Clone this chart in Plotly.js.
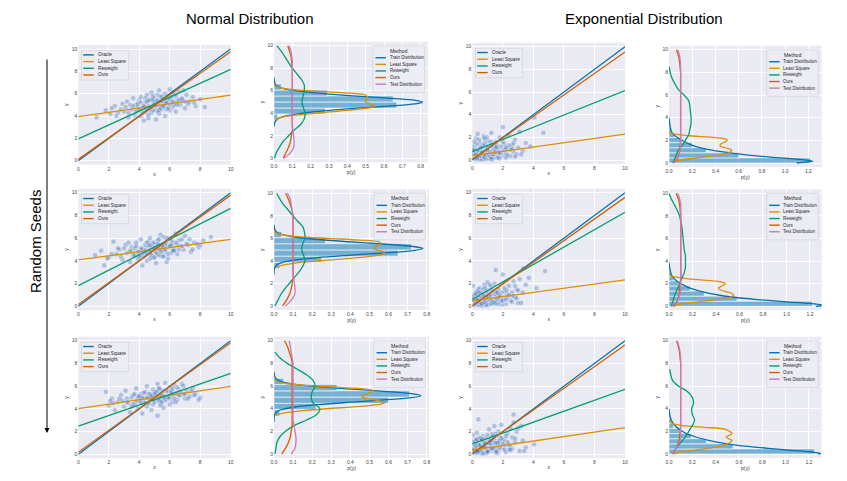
<!DOCTYPE html>
<html><head><meta charset="utf-8">
<script src="https://cdn.plot.ly/plotly-3.0.1.min.js"></script>
<style>html,body{margin:0;padding:0;background:#fff}#chart{width:847px;height:481px}</style>
</head><body><div id="chart"></div>
<script>
// ---------------- DATA ----------------
const LINE_X=[0,10];
const YG=[0,0.5,1,1.5,2,2.5,3,3.5,4,4.5,5,5.5,6,6.5,7,7.5,8,8.5,9,9.5,10];
const SC_TICKS=[0,2,4,6,8,10];
const NORM_PTICKS=[0,0.1,0.2,0.3,0.4,0.5,0.6,0.7,0.8];
const EXP_PTICKS=[0,0.2,0.4,0.6,0.8,1.0,1.2];
const SC_LEGEND=['Oracle','Least Square','Reweight','Ours'];
const DE_LEGEND=['Train Distribution','Least Square','Reweight','Ours','Test Distribution'];
const COL_TITLES=['Normal Distribution','Exponential Distribution'];
const ROW_LABEL='Random Seeds';

// Normal, seed 1 scatter
const N1x=[1.2,1.8,2.1,2.4,2.6,2.9,3.0,3.2,3.3,3.5,3.6,3.7,3.8,3.9,4.0,4.1,4.1,4.2,4.3,4.4,4.4,4.5,4.6,4.6,4.7,4.8,4.8,4.9,5.0,5.0,5.1,5.1,5.2,5.3,5.3,5.4,5.5,5.5,5.6,5.7,5.7,5.8,5.9,6.0,6.0,6.1,6.2,6.3,6.4,6.5,6.6,6.7,6.8,7.0,7.1,7.3,7.5,7.7,8.0,8.3,3.4,4.5,5.2,5.8,6.4,3.9,4.9,5.6,6.9,2.8];
const N1y=[3.9,4.5,4.2,4.9,4.3,5.1,4.4,5.3,3.9,4.6,5.6,4.1,5.0,4.5,5.4,4.0,5.7,4.7,3.6,5.2,4.4,5.9,4.9,3.8,5.5,4.3,6.1,5.0,4.6,5.6,3.7,5.3,4.8,6.3,4.2,5.1,4.6,5.8,5.3,4.0,6.0,5.0,5.6,4.5,6.4,5.2,4.8,5.8,4.4,5.5,6.2,5.0,5.6,4.7,5.9,5.3,5.7,4.9,5.5,4.8,5.0,4.6,5.9,4.6,5.9,4.8,4.5,5.5,6.3,4.6];
const N1x_b=[3.6,3.9,4.2,4.4,4.6,4.8,5.0,5.2,5.4,5.6,5.8,6.0,6.2,6.4,3.8,4.1,4.3,4.7,4.9,5.1,5.3,5.5,5.7,5.9,6.1,6.3,6.6,7.2,2.5,3.1,4.0,4.5,5.0,5.5,6.0,6.5,7.0,3.3,4.8,5.2,5.8,4.3,4.6,5.4,6.8,2.2,7.6,4.9,5.6,6.2];
const N1y_b=[4.9,5.1,4.3,5.6,4.1,5.4,4.9,4.4,5.7,4.8,5.3,5.0,6.1,5.2,4.4,5.2,4.8,4.6,5.5,5.0,4.5,5.3,5.1,4.7,5.7,5.0,5.4,5.1,4.0,4.8,4.6,5.3,5.2,4.9,5.5,5.0,5.3,4.3,4.8,5.4,5.2,4.9,5.4,4.7,5.5,4.7,5.2,5.8,4.9,5.3];
// Normal, seed 2 scatter
const N2x=[1.1,1.5,1.7,2.0,2.3,2.5,2.7,2.9,3.1,3.2,3.4,3.5,3.6,3.8,3.9,4.0,4.1,4.2,4.3,4.3,4.4,4.5,4.6,4.7,4.7,4.8,4.9,5.0,5.0,5.1,5.2,5.2,5.3,5.4,5.5,5.5,5.6,5.7,5.8,5.8,5.9,6.0,6.1,6.2,6.3,6.4,6.5,6.6,6.7,6.9,7.0,7.2,7.4,7.6,7.9,8.2,8.7,3.3,4.1,4.8,5.6,6.3,3.7,4.6,5.3,6.0,6.8,2.6,7.3,5.9];
const N2y=[4.5,4.9,3.6,4.3,5.7,4.6,5.0,4.1,5.4,4.7,3.9,5.2,4.5,5.6,4.2,4.8,5.9,3.6,5.1,4.4,5.4,4.0,5.7,4.7,6.0,5.2,4.3,5.5,4.9,3.8,5.8,4.6,5.3,6.3,4.4,5.0,6.1,4.8,5.5,3.9,5.2,6.0,4.7,5.6,5.1,6.4,4.6,5.8,5.3,5.0,6.2,5.4,4.8,5.6,5.2,5.8,6.1,5.6,4.5,5.0,5.4,4.9,5.1,4.9,4.5,5.3,5.9,5.1,5.9,4.2];
const N2x_b=[3.5,3.8,4.0,4.2,4.5,4.7,4.9,5.1,5.3,5.5,5.7,5.9,6.1,6.3,6.5,3.7,4.1,4.4,4.6,4.8,5.0,5.2,5.4,5.6,5.8,6.0,6.2,6.6,7.1,2.2,2.8,3.0,4.3,5.0,5.5,6.4,7.5,8.0,3.4,4.9,5.7,6.8,4.5,5.3,6.1,3.9,4.7,5.6,1.9,7.8];
const N2y_b=[4.8,5.3,4.4,5.0,5.6,4.2,5.2,4.7,5.9,4.9,5.4,4.6,5.8,4.9,5.4,4.5,5.1,4.9,5.3,4.5,5.1,5.5,4.8,5.2,6.0,5.3,4.9,5.0,5.5,4.6,4.4,5.1,4.7,4.3,5.3,5.6,5.0,5.4,4.9,5.6,5.0,5.3,4.6,5.0,5.4,4.8,5.4,4.4,4.2,5.5];
// Normal, seed 3 scatter
const N3x=[1.8,2.0,2.2,2.4,2.6,2.8,3.0,3.1,3.3,3.4,3.5,3.7,3.8,3.9,4.0,4.1,4.2,4.3,4.4,4.5,4.5,4.6,4.7,4.8,4.9,4.9,5.0,5.1,5.2,5.2,5.3,5.4,5.5,5.6,5.6,5.7,5.8,5.9,6.0,6.0,6.1,6.2,6.3,6.4,6.5,6.6,6.7,6.8,7.0,7.1,7.3,7.5,7.7,8.0,3.6,4.3,5.0,5.7,6.4,2.9,4.7,5.4,6.1,6.9,3.2,4.0,5.8,7.2,5.3,4.6];
const N3y=[5.5,4.3,4.9,3.9,4.6,5.2,4.2,5.6,4.5,3.7,5.0,4.4,5.8,4.0,4.7,5.3,3.6,4.9,5.5,4.2,6.0,4.6,5.1,3.9,5.7,4.4,5.2,4.8,6.2,3.4,5.0,4.5,5.6,4.1,5.3,6.3,4.8,5.5,4.4,5.9,5.1,4.6,6.1,5.3,4.8,5.7,5.2,6.2,4.9,5.6,5.1,5.8,5.3,5.0,5.2,4.6,5.5,4.9,5.4,4.7,4.9,4.3,5.6,6.0,4.9,5.1,5.0,4.9,5.8,5.3];
const N3x_b=[3.6,3.9,4.1,4.3,4.6,4.8,5.0,5.2,5.4,5.6,5.8,6.0,6.2,6.4,6.6,3.8,4.0,4.4,4.7,4.9,5.1,5.3,5.5,5.7,5.9,6.1,6.3,6.9,7.4,2.3,2.7,3.2,4.2,5.0,5.5,6.5,7.6,7.9,3.5,4.8,5.6,6.7,4.5,5.4,6.2,3.7,4.6,5.3,2.1,7.0];
const N3y_b=[4.4,5.0,4.6,5.4,4.9,5.2,4.6,5.5,4.8,5.1,5.6,4.9,5.3,4.6,5.2,4.7,5.1,4.5,5.3,4.8,5.5,4.7,5.2,4.8,5.0,5.5,4.9,5.3,5.6,4.5,4.9,4.6,5.0,5.3,4.6,5.9,5.2,4.8,4.2,5.1,5.0,5.5,5.0,5.2,5.8,5.3,4.5,5.8,4.7,5.3];
// Exponential scatters
const E1x=[0.05,0.1,0.15,0.2,0.25,0.3,0.3,0.35,0.4,0.45,0.5,0.5,0.55,0.6,0.65,0.7,0.75,0.8,0.85,0.9,0.95,1.0,1.0,1.1,1.15,1.2,1.25,1.3,1.35,1.4,1.5,1.55,1.6,1.7,1.75,1.8,1.9,2.0,2.0,2.1,2.2,2.3,2.4,2.5,2.6,2.7,2.8,2.9,3.0,3.1,3.3,3.5,3.8,4.06,4.65,0.2,0.4,0.6,0.8,1.05,1.3,1.6,0.1,0.9,1.45,2.2,0.35,0.7,1.85,2.5];
const E1y=[0.3,1.2,0.1,0.7,1.9,0.4,0.05,1.0,0.6,0.2,1.5,0.8,0.35,1.1,0.1,0.5,2.1,0.9,0.25,1.3,0.6,0.15,1.7,0.45,1.0,0.3,2.4,0.7,1.2,0.2,0.9,1.6,0.5,1.1,0.3,2.0,0.8,2.9,0.4,1.4,0.6,1.0,2.2,0.35,1.3,0.7,1.8,0.5,1.1,2.5,0.8,1.5,1.2,3.76,2.4,0.5,0.15,0.25,1.5,0.6,0.05,1.0,0.8,0.1,1.3,0.2,2.3,0.05,0.6,0.9];
const E1x_b=[0.1,0.2,0.3,0.4,0.5,0.6,0.7,0.8,0.9,1.0,1.1,1.2,1.3,1.4,1.5,1.6,1.7,1.8,1.9,2.1,2.3,2.6,0.15,0.35,0.55,0.75,0.95,1.15,1.35,1.55,1.75,2.0,2.4,2.8,0.05,0.25,0.45,0.65,0.85,1.25,1.65,2.2,3.2,0.5,1.0,1.5,0.3,0.8,1.2,2.7];
const E1y_b=[0.6,0.9,1.4,0.3,0.05,0.6,1.3,0.2,0.8,1.1,0.4,1.6,0.25,0.9,0.5,1.3,0.7,0.15,1.2,0.9,0.4,1.0,1.6,0.8,1.1,0.3,2.0,0.7,0.5,1.1,0.6,1.6,1.3,0.3,0.9,0.5,1.8,0.7,0.45,1.3,0.2,1.1,0.5,0.35,0.9,0.7,0.15,1.9,0.1,1.5];
const E2x=[0.05,0.1,0.15,0.2,0.25,0.3,0.35,0.4,0.45,0.5,0.55,0.6,0.65,0.7,0.75,0.8,0.85,0.9,0.95,1.0,1.05,1.1,1.2,1.25,1.3,1.4,1.5,1.53,1.6,1.7,1.8,1.9,2.0,2.0,2.1,2.2,2.3,2.4,2.5,2.6,2.7,2.8,2.9,3.0,3.1,3.2,3.34,3.5,3.7,4.2,4.76,0.2,0.45,0.7,0.95,1.15,1.45,1.75,2.25,0.1,0.6,1.35,1.95,2.65,0.3,0.85,3.3,1.0,0.4,1.6];
const E2y=[1.8,0.4,0.9,0.1,1.3,0.6,0.2,1.1,0.5,1.6,0.3,0.8,0.05,1.2,0.5,1.9,0.7,0.2,1.0,0.4,1.4,0.8,0.3,1.7,0.6,1.1,0.2,3.2,0.9,1.5,0.4,1.2,2.8,0.7,1.3,0.2,1.0,1.8,0.5,1.2,2.2,0.8,1.5,0.3,2.4,0.3,3.34,1.9,2.5,1.6,3.1,0.5,0.1,1.5,0.25,0.6,2.0,0.9,1.4,0.7,0.3,0.5,0.15,0.9,1.2,0.1,1.2,2.1,0.8,0.6];
const E2x_b=[0.1,0.2,0.3,0.4,0.5,0.6,0.7,0.8,0.9,1.0,1.1,1.2,1.3,1.4,1.5,1.6,1.7,1.8,1.9,2.1,2.3,2.6,0.15,0.35,0.55,0.75,0.95,1.15,1.35,1.55,1.75,2.0,2.4,2.8,0.05,0.25,0.45,0.65,0.85,1.25,1.65,2.2,3.0,0.5,1.0,1.5,0.3,0.8,1.2,2.9];
const E2y_b=[1.0,0.3,0.7,1.5,0.9,0.2,1.1,0.6,1.3,0.1,0.9,0.5,1.4,0.3,1.1,0.6,0.2,1.0,0.5,1.6,0.8,0.4,0.5,1.3,0.15,0.9,0.6,1.9,0.4,1.3,0.8,0.5,1.0,1.8,0.6,1.1,0.4,0.25,1.6,0.2,1.2,0.6,1.4,1.2,0.8,0.3,0.6,0.35,1.0,0.7];
const E3x=[0.05,0.1,0.15,0.2,0.25,0.3,0.35,0.4,0.4,0.45,0.5,0.55,0.6,0.65,0.7,0.75,0.8,0.85,0.9,0.95,1.0,1.05,1.1,1.2,1.25,1.3,1.4,1.45,1.5,1.6,1.7,1.75,1.8,1.9,2.0,2.1,2.2,2.3,2.4,2.5,2.6,2.7,2.8,2.9,3.0,3.1,3.3,3.5,4.04,0.2,0.5,0.75,1.0,1.3,1.55,1.85,2.15,0.1,0.65,1.15,1.65,2.45,0.3,0.9,1.35,2.0,0.55,3.2,1.1,2.7];
const E3y=[1.7,0.3,0.9,1.3,0.1,0.6,1.0,3.08,0.2,1.5,0.5,0.8,1.2,0.05,1.6,0.4,0.9,1.4,0.2,0.7,1.1,0.3,2.2,0.6,1.5,0.9,0.3,2.5,1.2,0.7,2.0,0.4,1.0,2.6,0.6,1.3,0.2,1.8,0.9,2.3,0.5,3.5,1.1,2.0,2.3,0.3,1.2,0.6,0.88,0.4,0.15,1.1,0.35,1.8,0.5,1.5,0.8,0.6,0.25,1.3,0.1,0.7,1.9,0.1,0.5,1.2,0.4,2.5,0.9,2.8];
const E3x_b=[0.1,0.2,0.3,0.4,0.5,0.6,0.7,0.8,0.9,1.0,1.1,1.2,1.3,1.4,1.5,1.6,1.7,1.8,1.9,2.1,2.3,2.6,0.15,0.35,0.55,0.75,0.95,1.15,1.35,1.55,1.75,2.0,2.4,2.8,0.05,0.25,0.45,0.65,0.85,1.25,1.65,2.2,3.4,0.5,1.0,1.5,0.3,0.8,1.2,2.5];
const E3y_b=[0.4,1.2,0.2,0.8,1.4,0.5,0.1,1.0,0.6,1.7,0.3,0.9,1.2,0.5,1.8,0.3,1.0,0.6,1.4,0.4,1.1,1.5,0.9,0.2,1.4,0.7,0.3,1.0,1.6,0.2,1.2,0.9,0.4,1.4,1.1,0.7,0.3,1.3,0.9,0.5,1.0,1.6,0.3,0.8,0.2,1.0,1.3,0.6,1.2,0.4];

// Fitted lines: y at x=0 and x=10  [Oracle, Least Square, Reweight, Ours]
const N1_oracle=[0,10], N1_ls=[3.94,5.88], N1_rw=[1.95,8.18], N1_ours=[0.12,9.76];
const N2_oracle=[0,10], N2_ls=[4.08,5.89], N2_rw=[1.82,8.62], N2_ours=[0.16,9.79];
const N3_oracle=[0,10], N3_ls=[4.02,5.98], N3_rw=[2.49,7.13], N3_ours=[0.18,9.82];
const E1_oracle=[0,10], E1_ls=[0.38,2.29], E1_rw=[0.74,6.12], E1_ours=[0.06,9.53];
const E2_oracle=[0,10], E2_ls=[0.5,2.32], E2_rw=[0.62,8.27], E2_ours=[0.06,9.59];
const E3_oracle=[0,10], E3_ls=[0.38,2.35], E3_rw=[0.91,5.72], E3_ours=[0.09,9.62];

// Density panels
const N1_histY=[3.67,4.2,4.73,5.27,5.8,6.33], N1_histP=[0.02,0.28,0.67,0.65,0.29,0.04];
const N1_trainY=[2.8,3.2,3.5,3.7,3.9,4.1,4.3,4.5,4.7,4.85,5.0,5.15,5.3,5.5,5.7,5.9,6.1,6.3,6.5,6.8,7.2];
const N1_trainP=[0,0.005,0.02,0.05,0.11,0.2,0.33,0.5,0.68,0.78,0.81,0.77,0.66,0.47,0.3,0.17,0.08,0.03,0.01,0.003,0];
const N1_lsY=[3.4,3.6,3.8,4.0,4.2,4.4,4.6,4.8,5.0,5.2,5.4,5.6,5.75,5.9,6.05,6.2,6.4,6.6];
const N1_lsP=[0.01,0.03,0.1,0.22,0.36,0.48,0.55,0.53,0.5,0.5,0.51,0.5,0.45,0.3,0.14,0.05,0.01,0];
const N1_rwP=[0.003,0.012,0.03,0.05,0.08,0.11,0.145,0.165,0.17,0.16,0.152,0.158,0.165,0.165,0.15,0.125,0.1,0.08,0.06,0.04,0.015];
const N1_oursP=[0.05,0.065,0.08,0.09,0.095,0.1,0.1,0.1,0.1,0.1,0.1,0.1,0.1,0.1,0.1,0.1,0.1,0.097,0.093,0.085,0.075];
const N1_testP=[0.055,0.09,0.108,0.11,0.107,0.103,0.1,0.1,0.1,0.1,0.1,0.1,0.1,0.1,0.1,0.1,0.1,0.1,0.098,0.093,0.082];

const N2_histY=[3.6,4.15,4.7,5.25,5.8,6.35], N2_histP=[0.03,0.25,0.65,0.72,0.27,0.04];
const N2_trainY=[2.8,3.2,3.5,3.7,3.9,4.1,4.3,4.5,4.7,4.9,5.1,5.3,5.5,5.7,5.9,6.1,6.3,6.5,6.8,7.2];
const N2_trainP=[0,0.001,0.006,0.018,0.049,0.114,0.228,0.39,0.57,0.72,0.78,0.72,0.57,0.39,0.228,0.114,0.049,0.018,0.004,0];
const N2_lsY=[3.4,3.6,3.8,4.0,4.2,4.4,4.6,4.75,4.9,5.1,5.3,5.5,5.7,5.85,6.0,6.15,6.3,6.5,6.7];
const N2_lsP=[0.01,0.04,0.11,0.23,0.38,0.5,0.57,0.58,0.56,0.52,0.53,0.56,0.55,0.45,0.28,0.13,0.05,0.01,0];
const N2_rwP=[0.005,0.02,0.035,0.055,0.08,0.105,0.13,0.15,0.162,0.155,0.145,0.15,0.162,0.16,0.152,0.125,0.1,0.075,0.05,0.03,0.014];
const N2_oursP=[0.045,0.065,0.08,0.09,0.095,0.1,0.1,0.1,0.1,0.1,0.1,0.1,0.1,0.1,0.1,0.1,0.1,0.095,0.085,0.075,0.06];
const N2_testP=[0.06,0.09,0.108,0.11,0.107,0.103,0.1,0.1,0.1,0.1,0.1,0.1,0.1,0.1,0.1,0.1,0.098,0.095,0.09,0.085,0.07];

const N3_histY=[3.65,4.2,4.75,5.3,5.85,6.4], N3_histP=[0.03,0.22,0.6,0.71,0.33,0.05];
const N3_trainY=[2.85,3.25,3.55,3.75,3.95,4.15,4.35,4.55,4.75,4.95,5.15,5.35,5.55,5.75,5.95,6.15,6.35,6.55,6.85,7.25];
const N3_trainP=[0,0.001,0.006,0.018,0.048,0.112,0.225,0.385,0.56,0.71,0.77,0.71,0.56,0.385,0.225,0.112,0.048,0.018,0.004,0];
const N3_lsY=[3.4,3.6,3.8,4.0,4.2,4.4,4.55,4.7,4.9,5.05,5.2,5.4,5.6,5.75,5.9,6.05,6.2,6.4,6.6];
const N3_lsP=[0.01,0.05,0.14,0.28,0.45,0.56,0.58,0.55,0.49,0.46,0.47,0.5,0.52,0.47,0.33,0.17,0.07,0.02,0];
const N3_rwP=[0.005,0.01,0.015,0.03,0.06,0.105,0.17,0.225,0.24,0.205,0.195,0.2,0.215,0.205,0.17,0.12,0.07,0.03,0.005,null,null];
const N3_oursP=[0.04,0.06,0.075,0.085,0.09,0.095,0.095,0.095,0.095,0.095,0.095,0.095,0.095,0.095,0.095,0.095,0.095,0.09,0.08,0.07,0.055];
const N3_testP=[0.09,0.11,0.115,0.115,0.11,0.105,0.1,0.1,0.1,0.1,0.1,0.1,0.1,0.1,0.1,0.1,0.1,0.095,0.09,0.085,0.08];

const E1_histY=[0.225,0.675,1.125,1.575,2.025,2.475,2.925,3.375], E1_histP=[1.22,0.6,0.32,0.2,0.1,0.05,0.02,0.01];
const E1_trainY=[0,0.15,0.3,0.5,0.7,1.0,1.3,1.6,1.9,2.2,2.5,2.8,3.2,3.6,4.0];
const E1_trainP=[1.1,1.24,1.15,0.9,0.68,0.45,0.29,0.19,0.13,0.08,0.04,0.02,0.01,0.005,0];
const E1_lsY=[0,0.2,0.4,0.6,0.8,1.0,1.15,1.3,1.5,1.7,1.9,2.05,2.2,2.35,2.5,2.65,2.8];
const E1_lsP=[0.03,0.08,0.2,0.36,0.48,0.53,0.54,0.5,0.44,0.45,0.49,0.5,0.44,0.25,0.08,0.02,0];
const E1_rwP=[0.035,0.055,0.075,0.11,0.14,0.17,0.18,0.19,0.19,0.185,0.18,0.17,0.13,0.08,0.05,0.025,0.01,0.003,null,null,null];
const E1_oursP=[0.045,0.075,0.09,0.095,0.1,0.1,0.1,0.1,0.1,0.1,0.1,0.1,0.1,0.1,0.1,0.1,0.1,0.095,0.09,0.08,0.065];
const E1_testP=[0.04,0.07,0.09,0.1,0.1,0.1,0.1,0.1,0.1,0.1,0.1,0.1,0.1,0.1,0.1,0.1,0.1,0.1,0.097,0.09,0.075];

const E2_histY=[0.225,0.675,1.125,1.575,2.025,2.475,2.925,3.375], E2_histP=[1.22,0.58,0.3,0.18,0.08,0.04,0.02,0.01];
const E2_trainY=[0,0.1,0.25,0.4,0.6,0.8,1.0,1.3,1.6,1.9,2.2,2.5,2.8,3.2,3.6,3.9];
const E2_trainP=[1.25,1.32,1.2,1.0,0.75,0.55,0.42,0.28,0.18,0.12,0.07,0.04,0.02,0.01,0.003,0];
const E2_lsY=[0,0.2,0.4,0.6,0.8,1.0,1.2,1.4,1.6,1.8,2.0,2.15,2.3,2.45,2.6,2.75,2.9];
const E2_lsP=[0.03,0.1,0.25,0.42,0.52,0.55,0.52,0.45,0.42,0.45,0.48,0.45,0.32,0.15,0.05,0.01,0];
const E2_rwP=[0.02,0.035,0.05,0.07,0.09,0.11,0.13,0.14,0.14,0.14,0.13,0.125,0.12,0.115,0.11,0.1,0.09,0.07,0.045,0.02,0];
const E2_oursP=[0.04,0.07,0.085,0.09,0.095,0.1,0.1,0.1,0.1,0.1,0.1,0.1,0.1,0.1,0.1,0.1,0.1,0.095,0.09,0.08,0.06];
const E2_testP=[0.05,0.075,0.09,0.1,0.1,0.1,0.1,0.1,0.1,0.1,0.1,0.1,0.1,0.1,0.1,0.1,0.1,0.1,0.1,0.09,0.075];

const E3_histY=[0.225,0.675,1.125,1.575,2.025,2.475,2.925,3.375], E3_histP=[1.25,0.55,0.32,0.19,0.09,0.04,0.02,0.01];
const E3_trainY=[0,0.05,0.2,0.35,0.5,0.7,0.9,1.2,1.5,1.8,2.1,2.4,2.8,3.2,3.6,4.0];
const E3_trainP=[1.28,1.3,1.2,1.02,0.85,0.65,0.5,0.34,0.23,0.15,0.1,0.06,0.03,0.012,0.004,0];
const E3_lsY=[0,0.2,0.4,0.6,0.8,1.0,1.2,1.4,1.55,1.7,1.85,2.0,2.2,2.35,2.5,2.65,2.8,2.95];
const E3_lsP=[0.04,0.12,0.27,0.4,0.47,0.52,0.54,0.5,0.49,0.53,0.54,0.52,0.48,0.3,0.12,0.04,0.01,0];
const E3_rwP=[0.03,0.06,0.1,0.14,0.17,0.2,0.22,0.2,0.195,0.21,0.2,0.16,0.08,0.03,0.015,0.005,null,null,null,null,null];
const E3_oursP=[0.03,0.06,0.08,0.09,0.095,0.1,0.1,0.1,0.1,0.1,0.1,0.1,0.1,0.1,0.1,0.1,0.1,0.095,0.09,0.08,0.065];
const E3_testP=[0.03,0.06,0.085,0.1,0.1,0.1,0.1,0.1,0.1,0.1,0.1,0.1,0.1,0.1,0.1,0.1,0.1,0.1,0.095,0.085,0.07];

// ---------------- STYLE / LAYOUT ----------------
const W=847,H=481;
const C={oracle:'#0173B2',ls:'#DE8F05',rw:'#029E73',ours:'#D55E00',test:'#CC78BC',train:'#0173B2'};
const FONT='Liberation Sans, Arial, sans-serif';
const panels=[
 {t:'sc',x0:78.3,x1:230.7,y10:49,y0:160.7,sx:N1x.concat(N1x_b),sy:N1y.concat(N1y_b),L:[N1_oracle,N1_ls,N1_rw,N1_ours]},
 {t:'de',x0:274,xr:428,xmax:0.84,y10:45.7,y0:158.3,ticks:NORM_PTICKS,hy:N1_histY,hp:N1_histP,hw:0.53,tr:[N1_trainY,N1_trainP],ls:[N1_lsY,N1_lsP],rw:N1_rwP,ou:N1_oursP,te:N1_testP},
 {t:'sc',x0:472.3,x1:625,y10:46.7,y0:160,sx:E1x.concat(E1x_b),sy:E1y.concat(E1y_b),L:[E1_oracle,E1_ls,E1_rw,E1_ours]},
 {t:'de',x0:669,xr:821.7,xmax:1.315,y10:49.7,y0:163,ticks:EXP_PTICKS,hy:E1_histY,hp:E1_histP,hw:0.45,tr:[E1_trainY,E1_trainP],ls:[E1_lsY,E1_lsP],rw:E1_rwP,ou:E1_oursP,te:E1_testP},
 {t:'sc',x0:78.3,x1:230.7,y10:192.7,y0:306.3,sx:N2x.concat(N2x_b),sy:N2y.concat(N2y_b),L:[N2_oracle,N2_ls,N2_rw,N2_ours]},
 {t:'de',x0:274,xr:429,xmax:0.812,y10:193.3,y0:306,ticks:NORM_PTICKS,hy:N2_histY,hp:N2_histP,hw:0.55,tr:[N2_trainY,N2_trainP],ls:[N2_lsY,N2_lsP],rw:N2_rwP,ou:N2_oursP,te:N2_testP},
 {t:'sc',x0:472.3,x1:625,y10:192.7,y0:306.3,sx:E2x.concat(E2x_b),sy:E2y.concat(E2y_b),L:[E2_oracle,E2_ls,E2_rw,E2_ours]},
 {t:'de',x0:669,xr:821.7,xmax:1.30,y10:193.3,y0:306.3,ticks:EXP_PTICKS,hy:E2_histY,hp:E2_histP,hw:0.45,tr:[E2_trainY,E2_trainP],ls:[E2_lsY,E2_lsP],rw:E2_rwP,ou:E2_oursP,te:E2_testP},
 {t:'sc',x0:78.3,x1:230.7,y10:340.7,y0:454.3,sx:N3x.concat(N3x_b),sy:N3y.concat(N3y_b),L:[N3_oracle,N3_ls,N3_rw,N3_ours]},
 {t:'de',x0:274,xr:429,xmax:0.812,y10:340.7,y0:454,ticks:NORM_PTICKS,hy:N3_histY,hp:N3_histP,hw:0.55,tr:[N3_trainY,N3_trainP],ls:[N3_lsY,N3_lsP],rw:N3_rwP,ou:N3_oursP,te:N3_testP},
 {t:'sc',x0:472.3,x1:625,y10:340.7,y0:454.3,sx:E3x.concat(E3x_b),sy:E3y.concat(E3y_b),L:[E3_oracle,E3_ls,E3_rw,E3_ours]},
 {t:'de',x0:669,xr:821.7,xmax:1.31,y10:340.7,y0:454,ticks:EXP_PTICKS,hy:E3_histY,hp:E3_histP,hw:0.45,tr:[E3_trainY,E3_trainP],ls:[E3_lsY,E3_lsP],rw:E3_rwP,ou:E3_oursP,te:E3_testP}
];
const YPAD=0.35;
const fx=p=>p/W, fy=p=>1-p/H;
const layout={width:W,height:H,margin:{l:0,r:0,t:0,b:0},paper_bgcolor:'#ffffff',plot_bgcolor:'#EAEAF2',
  showlegend:false,font:{family:FONT,size:5,color:'#333'},shapes:[],annotations:[],hovermode:false};
const traces=[];
function axBase(){return {showgrid:true,gridcolor:'#ffffff',gridwidth:0.9,zeroline:false,showline:false,ticks:'',
  tickfont:{family:FONT,size:5,color:'#444'},fixedrange:true,automargin:false};}
function legendBox(x,y,w,h){layout.shapes.push({type:'rect',xref:'paper',yref:'paper',x0:fx(x),x1:fx(x+w),y0:fy(y+h),y1:fy(y),
  fillcolor:'rgba(236,236,244,0.85)',line:{color:'#d2d2da',width:0.7},layer:'above'});}
function legendItem(x,y,color,text,fs,gap){
  layout.shapes.push({type:'line',xref:'paper',yref:'paper',x0:fx(x),x1:fx(x+10.5),y0:fy(y),y1:fy(y),line:{color:color,width:1.4},layer:'above'});
  layout.annotations.push({xref:'paper',yref:'paper',x:fx(x+gap),y:fy(y),text:text,showarrow:false,xanchor:'left',yanchor:'middle',
    font:{family:FONT,size:fs,color:'#262626'},borderpad:0});
}
panels.forEach((p,i)=>{
  const k=i+1, sfx=(k===1?'':String(k));
  const xa='x'+sfx, ya='y'+sfx;
  const u=(p.y0-p.y10)/10, T=p.y10-YPAD*u, B=p.y0+YPAD*u;
  let L,R,xr;
  if(p.t==='sc'){L=p.x0;R=p.x1;xr=[0,10];}else{L=p.x0;R=p.xr;xr=[0,p.xmax];}
  const xax=Object.assign(axBase(),{domain:[fx(L),fx(R)],anchor:ya,range:xr,
    title:{text:p.t==='sc'?'x':'p(y)',font:{family:FONT,size:5,color:'#333'},standoff:1}});
  const yax=Object.assign(axBase(),{domain:[fy(B),fy(T)],anchor:xa,range:[-YPAD,10+YPAD],tickvals:SC_TICKS,
    title:{text:'y',font:{family:FONT,size:5,color:'#333'},standoff:2}});
  if(p.t==='sc'){xax.tickvals=SC_TICKS;}else{xax.tickvals=p.ticks;xax.tickformat='.1f';}
  layout['xaxis'+sfx]=xax; layout['yaxis'+sfx]=yax;
  if(p.t==='sc'){
    traces.push({type:'scatter',mode:'markers',x:p.sx,y:p.sy,xaxis:xa,yaxis:ya,
      marker:{size:5.2,color:'rgba(62,108,186,0.35)',line:{color:'rgba(255,255,255,0.85)',width:0.5}}});
    const cols=[C.oracle,C.ls,C.rw,C.ours];
    p.L.forEach((yy,j)=>traces.push({type:'scatter',mode:'lines',x:LINE_X,y:yy,xaxis:xa,yaxis:ya,line:{color:cols[j],width:1.3}}));
    const bx=L+3.3, by=T+5.5;
    legendBox(bx,by,47,29.5);
    SC_LEGEND.forEach((s,j)=>legendItem(bx+1.6,by+4.3+j*6.7,cols[j],s,4.7,13.5));
  }else{
    traces.push({type:'bar',orientation:'h',y:p.hy,x:p.hp,width:p.hw,xaxis:xa,yaxis:ya,
      marker:{color:'rgba(1,115,178,0.5)',line:{color:'#ffffff',width:0.6}}});
    const sp={shape:'spline',smoothing:0.8,width:1.3};
    traces.push({type:'scatter',mode:'lines',x:p.tr[1],y:p.tr[0],xaxis:xa,yaxis:ya,line:Object.assign({color:C.train},sp)});
    traces.push({type:'scatter',mode:'lines',x:p.ls[1],y:p.ls[0],xaxis:xa,yaxis:ya,line:Object.assign({color:C.ls},sp)});
    traces.push({type:'scatter',mode:'lines',x:p.rw,y:YG,xaxis:xa,yaxis:ya,line:Object.assign({color:C.rw},sp)});
    traces.push({type:'scatter',mode:'lines',x:p.ou,y:YG,xaxis:xa,yaxis:ya,line:Object.assign({color:C.ours},sp)});
    traces.push({type:'scatter',mode:'lines',x:p.te,y:YG,xaxis:xa,yaxis:ya,line:Object.assign({color:C.test},sp)});
    const bw=51.5, bx=R-3.5-bw, by=T+4;
    legendBox(bx,by,bw,46.5);
    layout.annotations.push({xref:'paper',yref:'paper',x:fx(bx+bw/2),y:fy(by+5),text:'Method',showarrow:false,xanchor:'center',yanchor:'middle',
      font:{family:FONT,size:5.2,color:'#262626'},borderpad:0});
    const cols=[C.train,C.ls,C.rw,C.ours,C.test];
    DE_LEGEND.forEach((s,j)=>legendItem(bx+2.5,by+12+j*6.6,cols[j],s,4.5,13));
  }
});
layout.annotations.push({xref:'paper',yref:'paper',x:fx(249.5),y:fy(18),text:COL_TITLES[0],showarrow:false,xanchor:'center',yanchor:'middle',font:{family:FONT,size:15,color:'#000'}});
layout.annotations.push({xref:'paper',yref:'paper',x:fx(644),y:fy(18),text:COL_TITLES[1],showarrow:false,xanchor:'center',yanchor:'middle',font:{family:FONT,size:15,color:'#000'}});
layout.annotations.push({xref:'paper',yref:'paper',x:fx(35),y:fy(242),text:ROW_LABEL,showarrow:false,textangle:-90,xanchor:'center',yanchor:'middle',font:{family:FONT,size:15,color:'#000'}});
layout.annotations.push({xref:'paper',yref:'paper',x:fx(47),y:fy(433),ax:0,ay:-(433-58),text:'',showarrow:true,arrowhead:2,arrowsize:1,arrowwidth:1,arrowcolor:'#000'});

Plotly.newPlot('chart',traces,layout,{staticPlot:true,displayModeBar:false});
</script></body></html>
